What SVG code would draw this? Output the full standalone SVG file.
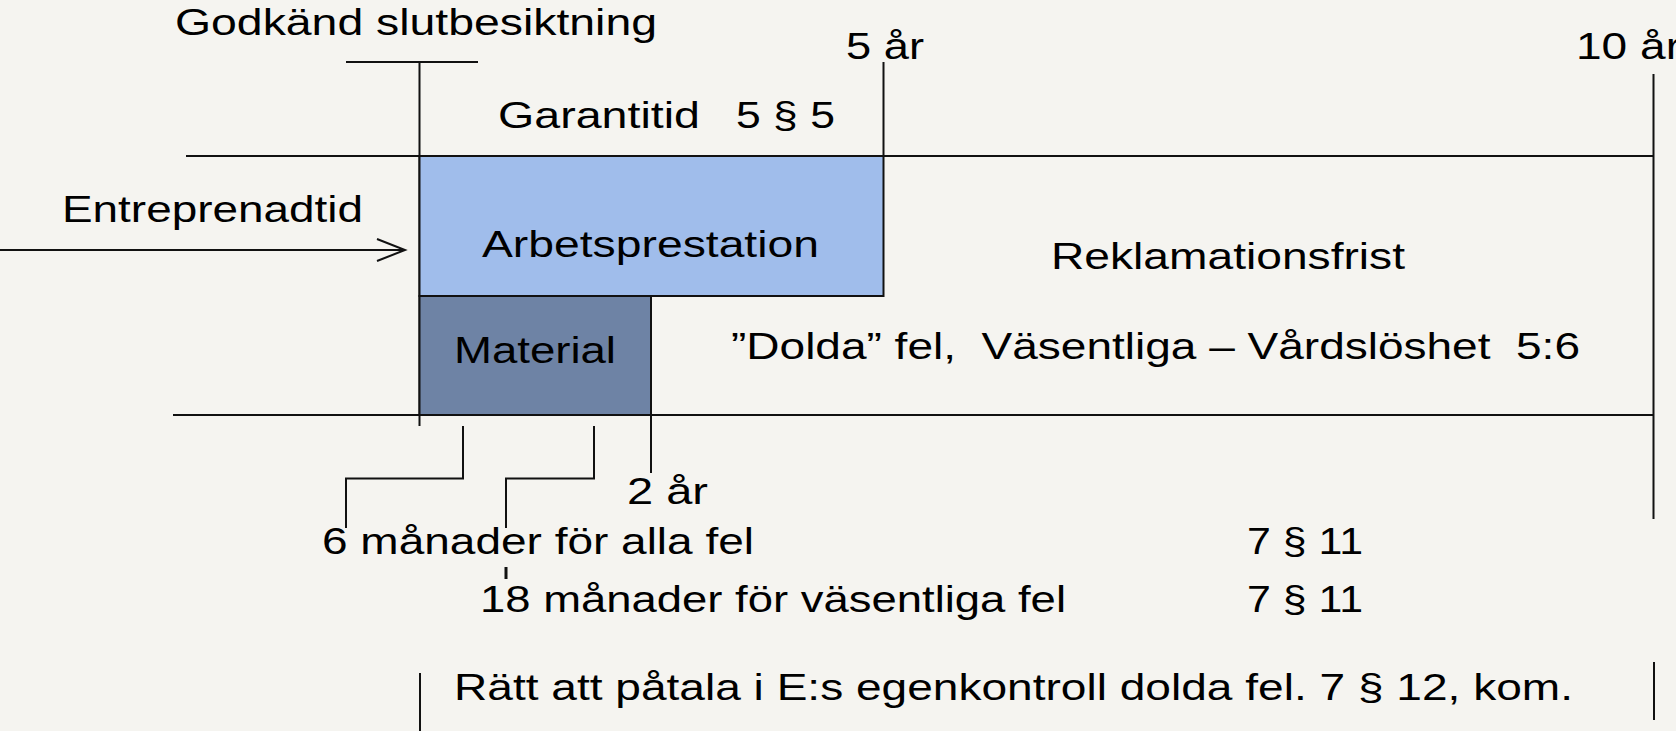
<svg xmlns="http://www.w3.org/2000/svg" width="1676" height="731" viewBox="0 0 1676 731">
<style>
text{font-family:"Liberation Sans",Arial,sans-serif;font-size:36px;fill:#000;white-space:pre}
.ln{stroke:#111;stroke-width:2;fill:none}
</style>
<rect width="1676" height="731" fill="#F5F4F0"/>
<g id="connectors">
<line class="ln" x1="346" y1="62" x2="478" y2="62"/>
<line class="ln" x1="419.5" y1="62" x2="419.5" y2="426"/>
<line class="ln" x1="186" y1="156" x2="1654" y2="156"/>
<line class="ln" x1="173" y1="415" x2="1654" y2="415"/>
<line class="ln" x1="883.5" y1="62" x2="883.5" y2="156"/>
<line class="ln" x1="1653.5" y1="74" x2="1653.5" y2="519"/>
<line class="ln" x1="651" y1="296" x2="651" y2="473"/>
<path class="ln" d="M463,426 V478.5 H346 V528"/>
<path class="ln" d="M594,426 V478.5 H506 V528"/>
<line stroke="#111" stroke-width="3" x1="506" y1="567" x2="506" y2="579"/>
<line class="ln" x1="0" y1="250" x2="404" y2="250"/>
<path class="ln" d="M377,239 L405,250 L377,261"/>
<line class="ln" x1="420" y1="673" x2="420" y2="731"/>
<line class="ln" x1="1654" y1="662" x2="1654" y2="720"/>
</g>
<g id="arbetsprestation">
<rect x="419.5" y="156" width="464" height="140" fill="#A0BDEB" stroke="#111" stroke-width="2"/>
<text x="482" y="257" textLength="337" lengthAdjust="spacingAndGlyphs">Arbetsprestation</text>
</g>
<g id="material">
<rect x="419.5" y="296" width="231.5" height="119" fill="#6E83A5" stroke="#111" stroke-width="2"/>
<text x="454" y="363" textLength="162" lengthAdjust="spacingAndGlyphs">Material</text>
</g>
<g id="labels">
<text x="175" y="35" textLength="482" lengthAdjust="spacingAndGlyphs">Godkänd slutbesiktning</text>
<text x="846" y="59" textLength="78" lengthAdjust="spacingAndGlyphs">5 år</text>
<text x="1576" y="59" textLength="105" lengthAdjust="spacingAndGlyphs">10 år</text>
<text x="498" y="128" textLength="202" lengthAdjust="spacingAndGlyphs">Garantitid</text>
<text x="736" y="128" textLength="99" lengthAdjust="spacingAndGlyphs">5 § 5</text>
<text x="62" y="222" textLength="301" lengthAdjust="spacingAndGlyphs">Entreprenadtid</text>
<text x="1051" y="269" textLength="354" lengthAdjust="spacingAndGlyphs">Reklamationsfrist</text>
<text x="731" y="359" textLength="849" lengthAdjust="spacingAndGlyphs">”Dolda” fel,  Väsentliga – Vårdslöshet  5:6</text>
<text x="627" y="504" textLength="81" lengthAdjust="spacingAndGlyphs">2 år</text>
<text x="322" y="554" textLength="432" lengthAdjust="spacingAndGlyphs">6 månader för alla fel</text>
<text x="1247" y="554" textLength="116" lengthAdjust="spacingAndGlyphs">7 § 11</text>
<text x="480" y="612" textLength="586" lengthAdjust="spacingAndGlyphs">18 månader för väsentliga fel</text>
<text x="1247" y="612" textLength="116" lengthAdjust="spacingAndGlyphs">7 § 11</text>
<text x="454" y="700" textLength="1119" lengthAdjust="spacingAndGlyphs">Rätt att påtala i E:s egenkontroll dolda fel. 7 § 12, kom.</text>
</g>
</svg>
